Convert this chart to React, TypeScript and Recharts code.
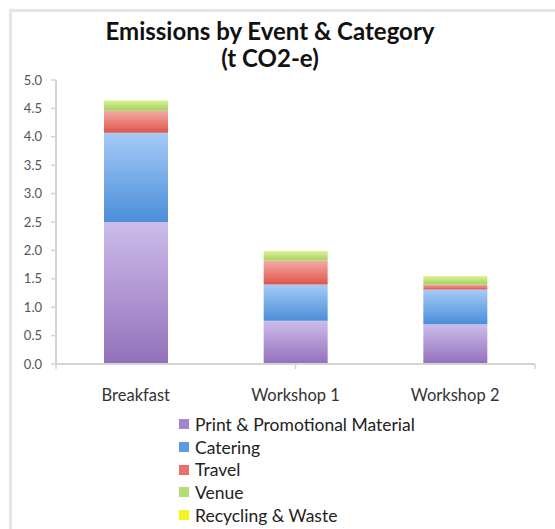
import React from "react";
import { BarChart, Bar, XAxis, YAxis } from "recharts";

const categories = ["Breakfast", "Workshop 1", "Workshop 2"];
const seriesNames = [
  "Print & Promotional Material",
  "Catering",
  "Travel",
  "Venue",
  "Recycling & Waste",
];
const printValues = [2.5, 0.76, 0.7];
const cateringValues = [1.57, 0.64, 0.61];
const travelValues = [0.39, 0.42, 0.09];
const venueValues = [0.17, 0.16, 0.14];
const recyclingValues = [0.01, 0.01, 0.01];
const yTicks = [0, 0.5, 1, 1.5, 2, 2.5, 3, 3.5, 4, 4.5, 5];

const seriesValues = [printValues, cateringValues, travelValues, venueValues, recyclingValues];
const keys = ["print", "catering", "travel", "venue", "recycling"];
const gradients = [
  ["#cdbcea", "#9271bb"],
  ["#a6cbf8", "#4a8ed8"],
  ["#f3aba6", "#df554c"],
  ["#d6ef9e", "#a3d25a"],
  ["#f8f840", "#eeee10"],
];
const legendColors = ["#a386cf", "#5b9ce0", "#e96f68", "#b4dc78", "#f4f424"];

const data = categories.map((c, i) => {
  const row: Record<string, number | string> = { name: c };
  keys.forEach((k, j) => {
    row[k] = seriesValues[j][i];
  });
  return row;
});

const FONT = "Lato, 'Open Sans', sans-serif";

export default function App() {
  return (
    <div style={{ position: "absolute", left: 0, top: 0, width: 555, height: 529, background: "#fff", fontFamily: FONT }}>
      <div style={{ position: "absolute", left: 9, top: 9, width: 546, height: 520, borderTop: "3px solid #e6e6e6", borderLeft: "3px solid #e6e6e6" }} />
      <div style={{ position: "absolute", left: 0, width: 540, top: 17, textAlign: "center", fontWeight: 700, fontSize: 24, lineHeight: "27px", color: "#111" }}>
        Emissions by Event &amp; Category
        <br />
        (t CO2-e)
      </div>
      <div style={{ position: "absolute", left: 0, top: 0 }}>
        <BarChart width={555} height={529} data={data} margin={{ top: 80, right: 20, bottom: 0, left: 0 }}>
          <defs>
            {gradients.map((g, i) => (
              <linearGradient key={i} id={`grad${i}`} x1="0" y1="0" x2="0" y2="1">
                <stop offset="0%" stopColor={g[0]} />
                <stop offset="100%" stopColor={g[1]} />
              </linearGradient>
            ))}
          </defs>
          <XAxis
            xAxisId="b_cat"
            dataKey="name"
            height={159}
            axisLine={false}
            tickLine={false}
            tickSize={0}
            tick={{ fontSize: 16.5, fill: "#333", fontFamily: FONT, dy: 17 }}
            interval={0}
          />
          <XAxis
            xAxisId="a_grid"
            type="number"
            domain={[0, 3]}
            ticks={[0, 1, 2, 3]}
            height={6}
            axisLine={{ stroke: "#d4d4d4", strokeWidth: 2 }}
            tickLine={{ stroke: "#d4d4d4", strokeWidth: 1.5 }}
            tickSize={5}
            tickFormatter={() => ""}
            allowDataOverflow
          />
          <YAxis
            width={56}
            domain={[0, 5]}
            ticks={yTicks}
            tickFormatter={(v: number) => v.toFixed(1)}
            axisLine={{ stroke: "#d4d4d4", strokeWidth: 2 }}
            tickLine={{ stroke: "#d4d4d4", strokeWidth: 1.5 }}
            tickSize={5}
            tickMargin={9}
            tick={{ fontSize: 13, fill: "#555", fontFamily: FONT }}
            interval={0}
          />
          {keys.map((k, i) => (
            <Bar
              key={k}
              dataKey={k}
              name={seriesNames[i]}
              stackId="a"
              xAxisId="b_cat"
              barSize={64}
              fill={`url(#grad${i})`}
              isAnimationActive={false}
            />
          ))}
        </BarChart>
      </div>
      <div style={{ position: "absolute", left: 179, top: 413 }}>
        {seriesNames.map((n, i) => (
          <div key={n} style={{ display: "flex", alignItems: "center", height: 22.7, fontSize: 17.5, color: "#222", whiteSpace: "nowrap" }}>
            <span style={{ display: "inline-block", width: 10, height: 10, background: legendColors[i], marginRight: 6 }} />
            {n}
          </div>
        ))}
      </div>
    </div>
  );
}
